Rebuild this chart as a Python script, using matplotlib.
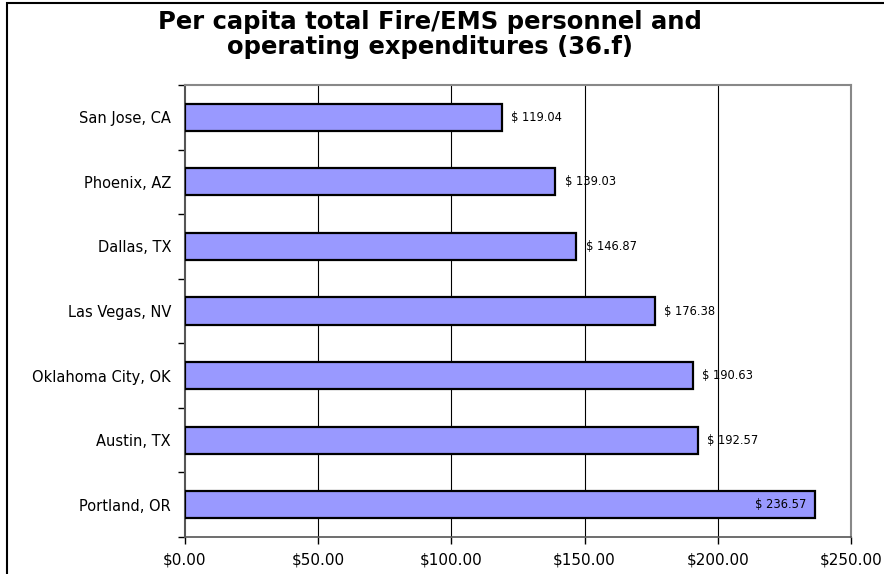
import matplotlib
matplotlib.use('Agg')
import matplotlib.pyplot as plt
from matplotlib.patches import Rectangle

cidades = ['San Jose, CA', 'Phoenix, AZ', 'Dallas, TX', 'Las Vegas, NV',
           'Oklahoma City, OK', 'Austin, TX', 'Portland, OR']
valores = [119.04, 139.03, 146.87, 176.38, 190.63, 192.57, 236.57]
ticksX = [0, 50, 100, 150, 200, 250]
rotulosX = ['$0.00', '$50.00', '$100.00', '$150.00', '$200.00', '$250.00']

plt.rcParams['font.family'] = ['DejaVu Sans']

W, H = 884, 574
fig = plt.figure(figsize=(W / 100, H / 100), dpi=100)
ax = fig.add_axes([185 / W, 1 - 537 / H, (851 - 185) / W, (537 - 85) / H])

# moldura da figura
fig.patches.append(Rectangle((7 / W, -0.1), 1.2, 1 - 3 / H + 0.1, transform=fig.transFigure,
                             fill=False, edgecolor='black', linewidth=1.5))

pos = list(range(len(cidades)))
ax.barh(pos, valores, height=0.42, color='#9999FF', edgecolor='black', linewidth=1.6, zorder=3)
ax.set_ylim(len(cidades) - 0.5, -0.5)
ax.set_xlim(0, 250)

ax.set_yticks(pos)
ax.set_yticklabels(cidades, fontsize=10.5)
ax.set_yticks([p + 0.5 for p in range(-1, len(cidades))], minor=True)
ax.tick_params(axis='y', which='major', length=0, pad=10)
ax.tick_params(axis='y', which='minor', length=5, width=1, direction='out')

ax.set_xticks(ticksX)
ax.set_xticklabels(rotulosX, fontsize=11)
ax.tick_params(axis='x', length=5, width=1, direction='out', pad=6)

for x in ticksX[1:-1]:
    ax.axvline(x, color='black', linewidth=0.8, zorder=1)

for s in ['top', 'right']:
    ax.spines[s].set_color('#888888')
    ax.spines[s].set_linewidth(1.5)
ax.spines['left'].set_color('#555555')
ax.spines['left'].set_linewidth(1.5)
ax.spines['bottom'].set_color('#555555')
ax.spines['bottom'].set_linewidth(1.2)

for p, v in zip(pos, valores):
    txt = f'$ {v:.2f}'
    if v > 220:
        ax.text(v - 3.5, p, txt, ha='right', va='center', fontsize=8.3, zorder=4)
    else:
        ax.text(v + 3.5, p, txt, ha='left', va='center', fontsize=8.3, zorder=4)

fig.text(0.486, 1 - 29 / H, 'Per capita total Fire/EMS personnel and',
         ha='center', va='baseline', fontsize=17.5, fontweight='bold')
fig.text(0.486, 1 - 54 / H, 'operating expenditures (36.f)',
         ha='center', va='baseline', fontsize=17.5, fontweight='bold')

fig.savefig('out.png', dpi=100)
